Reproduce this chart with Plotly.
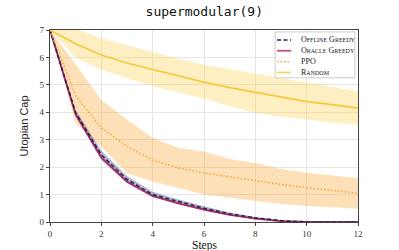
import plotly.graph_objects as go

steps = list(range(13))

random_mean = [7, 6.5, 6.09, 5.8, 5.56, 5.33, 5.1, 4.9, 4.73, 4.55, 4.39, 4.28, 4.15]
random_upper = [7, 7.05, 6.7, 6.45, 6.18, 5.95, 5.73, 5.57, 5.42, 5.25, 5.08, 4.92, 4.77]
random_lower = [7, 6.0, 5.55, 5.25, 4.95, 4.72, 4.5, 4.22, 3.98, 3.85, 3.73, 3.63, 3.55]

ppo_mean = [7, 4.6, 3.43, 2.76, 2.25, 1.97, 1.79, 1.65, 1.5, 1.37, 1.25, 1.15, 1.05]
ppo_upper = [7, 5.75, 4.45, 3.73, 3.07, 2.7, 2.57, 2.3, 2.15, 1.93, 1.8, 1.7, 1.6]
ppo_lower = [7, 3.6, 2.75, 1.78, 1.48, 1.24, 1.0, 0.88, 0.76, 0.66, 0.58, 0.52, 0.48]

offline_mean = [7, 3.98, 2.45, 1.55, 1.0, 0.75, 0.5, 0.3, 0.15, 0.05, 0.0, 0.0, 0.0]
offline_upper = [7, 4.08, 2.6, 1.68, 1.1, 0.82, 0.57, 0.35, 0.18, 0.07, 0.0, 0.0, 0.0]
offline_lower = [7, 3.85, 2.25, 1.42, 0.9, 0.65, 0.42, 0.24, 0.11, 0.03, 0.0, 0.0, 0.0]

oracle_mean = [7, 3.92, 2.35, 1.47, 0.95, 0.68, 0.45, 0.26, 0.12, 0.03, 0.0, 0.0, 0.0]

x_ticks = [0, 2, 4, 6, 8, 10, 12]
y_ticks = [0, 1, 2, 3, 4, 5, 6, 7]

legend_names = ["Offline Greedy", "Oracle Greedy", "PPO", "Random"]

C_OFF = "#25245a"
C_ORA = "#a82a5c"
C_PPO = "#f7a030"
C_RND = "#f6c93c"

D_OFF = "4px,2.5px"
D_PPO = "1.5px,2px"

fig = go.Figure()


def band(upper, lower, fill):
    fig.add_trace(go.Scatter(x=steps, y=upper, mode="lines", line=dict(width=0),
                             showlegend=False, hoverinfo="skip"))
    fig.add_trace(go.Scatter(x=steps, y=lower, mode="lines", line=dict(width=0),
                             fill="tonexty", fillcolor=fill, showlegend=False, hoverinfo="skip"))


band(random_upper, random_lower, "rgba(248,208,80,0.35)")
band(ppo_upper, ppo_lower, "rgba(250,165,50,0.35)")
band(offline_upper, offline_lower, "rgba(80,75,135,0.42)")

fig.add_trace(go.Scatter(x=steps, y=oracle_mean, mode="lines", name="Oracle Greedy",
                         line=dict(color=C_ORA, width=1.8), showlegend=False))
fig.add_trace(go.Scatter(x=steps, y=offline_mean, mode="lines", name="Offline Greedy",
                         line=dict(color=C_OFF, width=1.6, dash=D_OFF), showlegend=False))
fig.add_trace(go.Scatter(x=steps, y=ppo_mean, mode="lines", name="PPO",
                         line=dict(color=C_PPO, width=1.4, dash=D_PPO), showlegend=False))
fig.add_trace(go.Scatter(x=steps, y=random_mean, mode="lines", name="Random",
                         line=dict(color=C_RND, width=1.6), showlegend=False))

# compact legend (paper coordinates)
shapes = [dict(type="rect", xref="paper", yref="paper", x0=0.731, x1=0.99, y0=0.751, y1=0.99,
               line=dict(color="#cccccc", width=1), fillcolor="rgba(255,255,255,0.92)", layer="above")]
annotations = []
leg_styles = [(C_OFF, D_OFF, 1.6), ("#c0507e", "solid", 1.8), (C_PPO, D_PPO, 1.4), ("#f7d66a", "solid", 1.8)]
row_y = [40, 50.8, 61.7, 72.6]
for name, (col, dash, w), py in zip(legend_names, leg_styles, row_y):
    yp = 1 - (py - 30) / 192.5
    shapes.append(dict(type="line", xref="paper", yref="paper", x0=0.737, x1=0.783, y0=yp, y1=yp,
                       line=dict(color=col, width=w, dash=dash), layer="above"))
    annotations.append(dict(xref="paper", yref="paper", x=0.808, y=yp, xanchor="left", yanchor="middle",
                            text=name, showarrow=False,
                            font=dict(family="Liberation Serif", size=8, color="#222", variant="small-caps")))

# x-axis title as annotation
annotations.append(dict(xref="paper", yref="paper", x=0.5, y=1 - (246 - 30) / 192.5,
                        xanchor="center", yanchor="middle", text="Steps", showarrow=False,
                        borderpad=0,
                        font=dict(family="Liberation Serif", size=11.5, color="#111")))

fig.update_layout(
    width=399, height=250,
    margin=dict(l=50, r=41, t=30, b=28),
    paper_bgcolor="white", plot_bgcolor="white",
    showlegend=False,
    shapes=shapes, annotations=annotations,
    title=dict(text="supermodular(9)", x=0.512, xanchor="center", y=0.955, yanchor="middle",
               font=dict(family="DejaVu Sans Mono", size=13, color="#111")),
    xaxis=dict(range=[0, 12], tickvals=x_ticks, ticktext=[str(v) for v in x_ticks],
               showgrid=True, gridcolor="#e6e6e6", gridwidth=1, zeroline=False,
               showline=True, linecolor="#444", linewidth=1.2, mirror=True,
               ticks="outside", ticklen=3, tickcolor="#444", automargin=False,
               tickfont=dict(family="Liberation Serif", size=9, color="#333")),
    yaxis=dict(range=[0, 7], tickvals=y_ticks, ticktext=[str(v) for v in y_ticks],
               showgrid=True, gridcolor="#e6e6e6", gridwidth=1, zeroline=False,
               showline=True, linecolor="#444", linewidth=1.2, mirror=True,
               ticks="outside", ticklen=3, tickcolor="#444", automargin=False,
               tickfont=dict(family="Liberation Serif", size=9, color="#333"),
               title=dict(text="Utopian Cap", font=dict(family="Liberation Sans", size=11, color="#222"),
                          standoff=8)),
)

fig.write_html("out.html", config={"displayModeBar": False},
               post_script="document.body.style.margin='0';document.body.style.padding='0';")
